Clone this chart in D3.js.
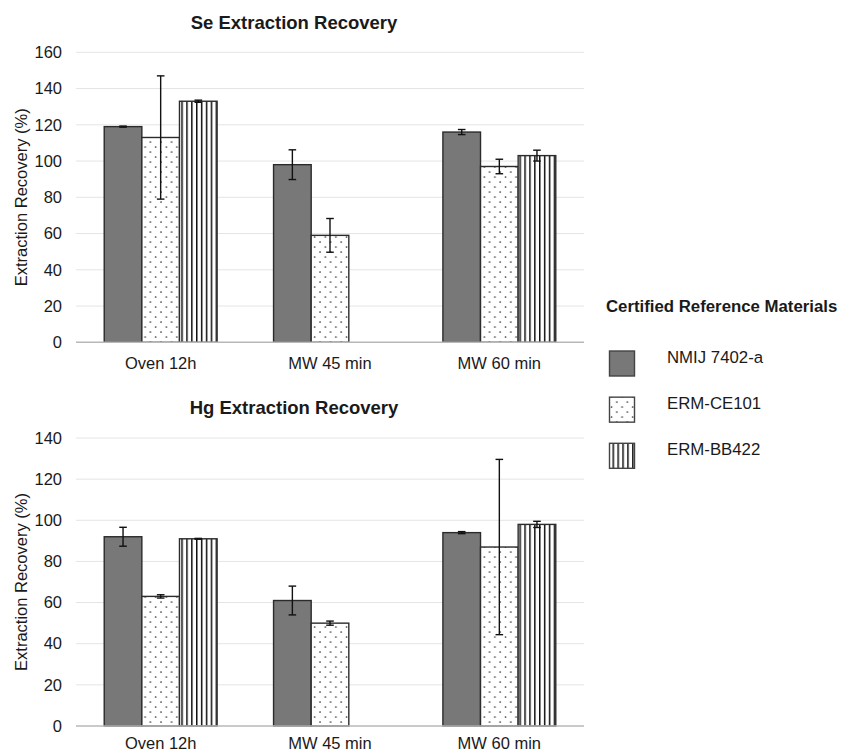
<!DOCTYPE html>
<html><head><meta charset="utf-8">
<script src="https://cdn.jsdelivr.net/npm/d3@7"></script>
<style>body{margin:0;background:#fff} svg text{font-family:"Liberation Sans",Arial,sans-serif;fill:#1a1a1a}</style>
</head><body><svg id="c" width="841" height="753"></svg>
<script>
const categories = ["Oven 12h", "MW 45 min", "MW 60 min"];
const materials = ["NMIJ 7402-a", "ERM-CE101", "ERM-BB422"];

// Se chart
const seNMIJ = [119, 98, 116];
const seCE101 = [113, 59, 97];
const seBB422 = [133, null, 103];
const seNMIJErr = [0.3, 8.2, 1.4];
const seCE101Err = [34, 9.3, 4];
const seBB422Err = [0.6, null, 3];
const seTicks = [0, 20, 40, 60, 80, 100, 120, 140, 160];

// Hg chart
const hgNMIJ = [92, 61, 94];
const hgCE101 = [63, 50, 87];
const hgBB422 = [91, null, 98];
const hgNMIJErr = [4.6, 7, 0.5];
const hgCE101Err = [0.8, 1, 42.6];
const hgBB422Err = [0.2, null, 1.5];
const hgTicks = [0, 20, 40, 60, 80, 100, 120, 140];

const FONT = '"Liberation Sans",Arial,sans-serif';
const svg = d3.select("#c");
const defs = svg.append("defs");
const pDots = defs.append("pattern").attr("id", "dots").attr("patternUnits", "userSpaceOnUse")
  .attr("width", 10.6).attr("height", 10);
pDots.append("rect").attr("width", 10.6).attr("height", 10).attr("fill", "#fff");
pDots.append("circle").attr("cx", 2).attr("cy", 2).attr("r", 0.85).attr("fill", "#333");
pDots.append("circle").attr("cx", 7.3).attr("cy", 7).attr("r", 0.85).attr("fill", "#333");
const pLines = defs.append("pattern").attr("id", "vlines").attr("patternUnits", "userSpaceOnUse")
  .attr("width", 4.9).attr("height", 10);
pLines.append("rect").attr("width", 4.9).attr("height", 10).attr("fill", "#fff");
pLines.append("rect").attr("x", 0).attr("width", 1.5).attr("height", 10).attr("fill", "#111");

const fills = ["#787878", "url(#dots)", "url(#vlines)"];

const plotLeft = 76, plotRight = 584;
const x0 = d3.scaleBand().domain(categories).range([plotLeft, plotRight]).paddingInner(0).paddingOuter(0);

function drawChart(title, titleY, top, bottom, maxV, ticks, vals, errs, labelOffset) {
  const g = svg.append("g");
  const y = d3.scaleLinear().domain([0, maxV]).range([bottom, top]);
  g.append("g").selectAll("line").data(ticks.filter(t => t > 0)).join("line")
    .attr("x1", plotLeft).attr("x2", plotRight)
    .attr("y1", d => y(d)).attr("y2", d => y(d))
    .attr("stroke", "#e4e4e4").attr("stroke-width", 1);
  const yAxis = d3.axisLeft(y).tickValues(ticks).tickSize(0).tickPadding(0);
  const ya = g.append("g").attr("transform", `translate(62,0)`).call(yAxis);
  ya.select(".domain").remove();
  ya.selectAll("text").attr("font-size", 16.5).attr("fill", "#1a1a1a").attr("font-family", FONT);
  g.append("text").attr("transform", `translate(27,${(top + bottom) / 2}) rotate(-90)`)
    .attr("text-anchor", "middle").attr("font-size", 16.5).text("Extraction Recovery (%)");
  g.append("text").attr("x", 294).attr("y", titleY).attr("text-anchor", "middle")
    .attr("font-size", 18.5).attr("font-weight", "bold").text(title);

  const groupW = x0.bandwidth() / 1.5;
  const xs = d3.scaleBand().domain(materials).range([(x0.bandwidth() - groupW) / 2, (x0.bandwidth() + groupW) / 2]);

  materials.forEach((m, si) => {
    const data = categories.map((c, ci) => ({c, v: vals[si][ci], e: errs[si][ci]})).filter(d => d.v != null);
    g.append("g").selectAll("rect").data(data).join("rect")
      .attr("x", d => x0(d.c) + xs(m))
      .attr("width", xs.bandwidth())
      .attr("y", d => y(d.v))
      .attr("height", d => bottom - y(d.v))
      .attr("fill", fills[si]).attr("stroke", "#2b2b2b").attr("stroke-width", 1.4);
  });
  g.append("line").attr("x1", plotLeft).attr("x2", plotRight).attr("y1", bottom).attr("y2", bottom)
    .attr("stroke", "#b8b8b8").attr("stroke-width", 1.5);
  materials.forEach((m, si) => {
    const data = categories.map((c, ci) => ({c, v: vals[si][ci], e: errs[si][ci]})).filter(d => d.v != null);
    const eg = g.append("g").attr("stroke", "#111").attr("stroke-width", 1.4);
    data.forEach(d => {
      const cx = x0(d.c) + xs(m) + xs.bandwidth() / 2;
      eg.append("line").attr("x1", cx).attr("x2", cx).attr("y1", y(d.v + d.e)).attr("y2", y(d.v - d.e));
      eg.append("line").attr("x1", cx - 3.8).attr("x2", cx + 3.8).attr("y1", y(d.v + d.e)).attr("y2", y(d.v + d.e));
      eg.append("line").attr("x1", cx - 3.8).attr("x2", cx + 3.8).attr("y1", y(d.v - d.e)).attr("y2", y(d.v - d.e));
    });
  });
  const xAxis = d3.axisBottom(x0).tickSize(0).tickPadding(0);
  const xa = g.append("g").attr("transform", `translate(0,${bottom})`).call(xAxis);
  xa.select(".domain").remove();
  xa.selectAll("text").attr("font-size", 16.5).attr("fill", "#1a1a1a").attr("font-family", FONT)
    .attr("dy", null).attr("y", labelOffset);
}

drawChart("Se Extraction Recovery", 28.5, 52.3, 342.3, 160, seTicks,
  [seNMIJ, seCE101, seBB422], [seNMIJErr, seCE101Err, seBB422Err], 27);
drawChart("Hg Extraction Recovery", 413.5, 438, 726, 140, hgTicks,
  [hgNMIJ, hgCE101, hgBB422], [hgNMIJErr, hgCE101Err, hgBB422Err], 22.5);

const lg = svg.append("g");
lg.append("text").attr("x", 606).attr("y", 312).attr("font-size", 16.8).attr("font-weight", "bold")
  .text("Certified Reference Materials");
const ly = d3.scalePoint().domain(materials).range([351, 443.3]);
materials.forEach((m, i) => {
  lg.append("rect").attr("x", 609.5).attr("y", ly(m)).attr("width", 25).attr("height", 25)
    .attr("fill", fills[i]).attr("stroke", "#444").attr("stroke-width", 1.4);
  lg.append("text").attr("x", 667).attr("y", ly(m) + 12).attr("font-size", 16.8).text(m);
});
</script></body></html>
